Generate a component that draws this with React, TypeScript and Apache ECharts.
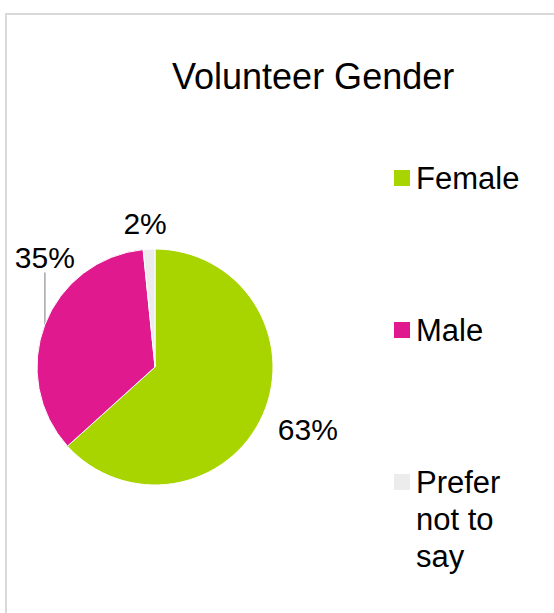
import React, { useEffect, useRef } from "react";
import * as echarts from "echarts";

const TITLE = "Volunteer Gender";
const categories = ["Female", "Male", "Prefer not to say"];
const shares = [63.3, 35.1, 1.6];
const colors = ["#A8D400", "#E0198E", "#ECECEC"];
const legendLabels: Record<string, string> = {
  Female: "Female",
  Male: "Male",
  "Prefer not to say": "\n\nPrefer\nnot to\nsay",
};

const FONT = "'Liberation Sans', Arial, Helvetica, sans-serif";

// label placement relative to the slice's anchor point on the rim
const labelPlacement = [
  { dx: 15, dy: 15, align: "left", va: "middle" },
  { dx: 0, dy: -52, align: "center", va: "bottom" },
  { dx: -4, dy: -26, align: "center", va: "middle" },
];

export default function App() {
  const ref = useRef<HTMLDivElement>(null);

  useEffect(() => {
    if (!ref.current) return;
    const chart = echarts.init(ref.current, undefined, { renderer: "svg" });

    const legendTops = [159.5, 311.5, 389.5];
    const legends = categories.map((name, i) => ({
      orient: "vertical",
      left: 392,
      top: legendTops[i],
      padding: 0,
      itemWidth: 18,
      itemHeight: 18,
      icon: "rect",
      data: [name],
      formatter: (n: string) => legendLabels[n] ?? n,
      textStyle: {
        fontSize: 31,
        lineHeight: 37,
        color: "#000",
        fontFamily: FONT,
      },
      selectedMode: false,
    }));

    chart.setOption({
      animation: false,
      backgroundColor: "#fff",
      title: {
        text: TITLE,
        left: 172,
        top: 58.5,
        padding: 0,
        textStyle: {
          fontSize: 36,
          lineHeight: 36,
          fontWeight: "normal",
          color: "#000",
          fontFamily: FONT,
        },
      },
      legend: legends,
      graphic: [
        {
          type: "rect",
          x: 0,
          y: 0,
          z: -10,
          silent: true,
          shape: { x: 6, y: 14, width: 700, height: 700 },
          style: { fill: "none", stroke: "#d9d9d9", lineWidth: 2 },
        },
      ],
      series: [
        {
          type: "pie",
          center: [155, 367],
          radius: 118,
          startAngle: 90,
          clockwise: true,
          avoidLabelOverlap: false,
          emphasis: { scale: false },
          itemStyle: { borderColor: "#fff", borderWidth: 1 },
          label: {
            show: true,
            position: "outside",
            fontSize: 30,
            lineHeight: 30,
            color: "#000",
            fontFamily: FONT,
            formatter: (p: any) => Math.round(p.percent) + "%",
          },
          labelLine: {
            show: true,
            length: 10,
            length2: 52,
            smooth: false,
            lineStyle: { color: "#a6a6a6", width: 1.5 },
          },
          labelLayout: (p: any) => {
            const pts = p.labelLinePoints;
            const pl = labelPlacement[p.dataIndex];
            if (!pts || !pl) return {};
            const ax = pts[0][0];
            const ay = pts[0][1];
            return {
              x: ax + pl.dx,
              y: ay + pl.dy,
              align: pl.align,
              verticalAlign: pl.va,
              hideOverlap: false,
            };
          },
          data: categories.map((name, i) => ({
            name,
            value: shares[i],
            itemStyle: { color: colors[i] },
            labelLine:
              i === 1
                ? undefined
                : { lineStyle: { opacity: 0, width: 0 } },
          })),
        },
      ],
    });

    return () => chart.dispose();
  }, []);

  return (
    <div
      ref={ref}
      style={{ position: "fixed", left: 0, top: 0, width: 554, height: 613 }}
    />
  );
}
